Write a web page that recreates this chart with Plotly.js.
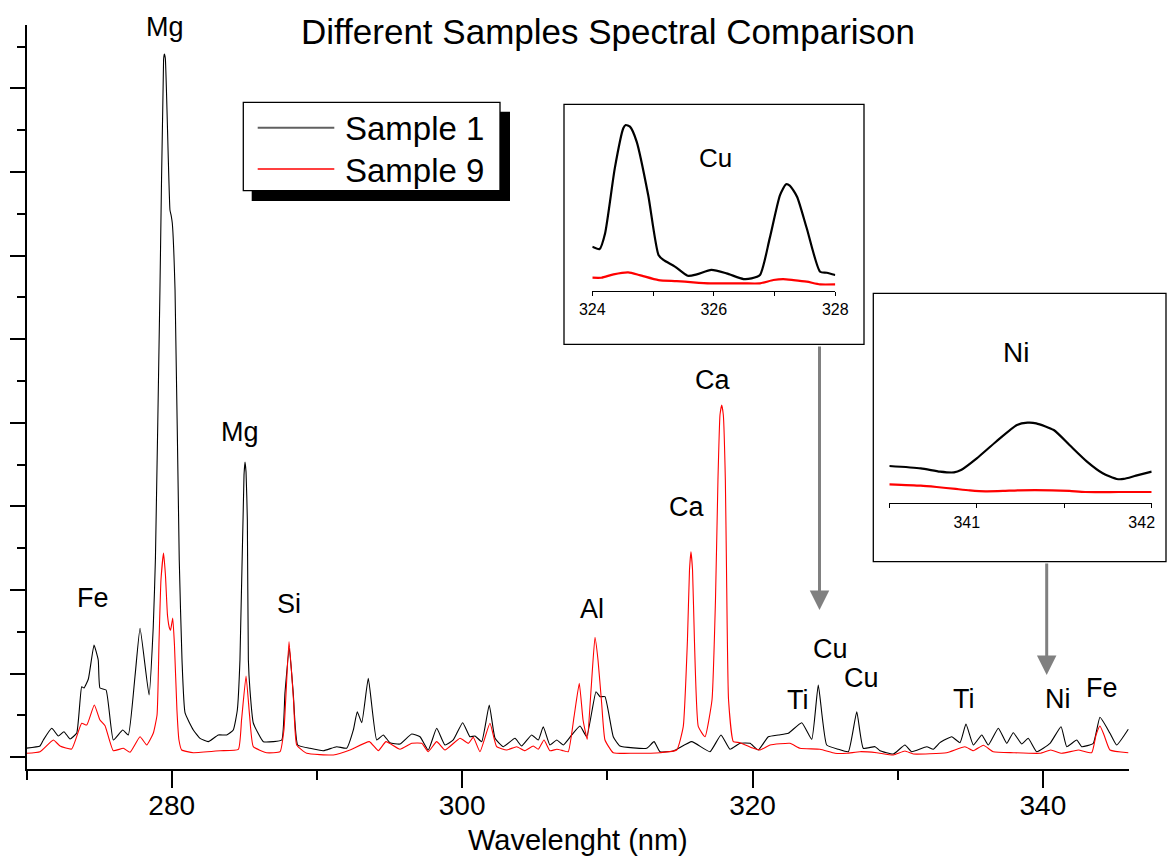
<!DOCTYPE html>
<html>
<head>
<meta charset="utf-8">
<script src="https://cdn.plot.ly/plotly-3.0.1.min.js"></script>
<style>html,body{margin:0;padding:0;background:#fff;}#chart{width:1168px;height:858px;}</style>
</head>
<body>
<div id="chart"></div>
<script>
// ---- Sample 1 (black) full spectrum ----
const wl1 = [270.01,270.93,271.16,271.74,272.19,272.58,273.00,273.46,273.80,273.96,274.26,274.65,274.94,275.06,275.48,275.98,276.63,277.01,277.47,277.82,278.44,278.73,278.88,279.19,279.44,279.49,279.56,279.88,279.97,280.04,280.23,280.52,280.71,280.92,281.49,281.95,282.52,283.21,283.79,284.24,284.52,284.70,284.98,285.05,285.12,285.21,285.28,285.39,285.62,286.31,287.00,287.58,287.80,288.10,288.37,288.68,289.52,290.44,291.36,292.05,292.51,292.78,293.09,293.54,294.12,294.57,295.03,295.72,296.53,297.10,297.67,298.25,298.82,299.39,300.04,300.54,300.89,301.35,301.87,302.27,302.84,303.64,304.10,304.79,305.25,305.59,306.05,306.52,306.97,307.55,308.12,308.58,309.22,309.50,309.84,310.41,310.87,312.71,313.22,313.63,314.55,315.81,317.07,317.83,318.45,319.14,319.83,320.40,321.09,321.78,322.47,323.39,324.08,324.53,325.11,325.91,326.60,327.18,327.63,328.44,328.78,329.70,330.50,330.96,332.00,332.45,332.91,333.72,334.29,334.70,335.21,335.79,336.24,336.93,337.51,337.96,338.54,338.99,339.57,340.49,341.25,341.64,342.33,342.67,343.47,343.93,344.62,345.08,345.88];
const sample1 = [110,135,207,347,255,306,219,291,844,829,936,1343,1164,829,805,207,327,267,964,1543,745,1562,2384,5589,8340,8411,8364,6546,6474,6390,5589,2360,1164,530,327,227,187,267,267,327,566,1164,3376,3532,3412,2838,1164,805,410,187,187,207,769,1304,769,147,108,79,127,108,327,545,414,945,207,267,175,159,279,246,87,347,147,207,414,246,255,187,625,227,127,227,135,267,207,366,147,207,147,267,374,246,785,725,725,246,135,108,187,67,75,187,67,267,96,167,167,87,246,267,287,414,215,865,147,96,67,545,108,127,79,39,147,67,127,96,175,246,175,398,147,267,147,347,167,294,159,227,67,167,366,127,207,127,167,478,287,147,335];

// ---- Sample 9 (red) full spectrum ----
const wl9 = [270.01,270.93,271.85,272.31,273.11,273.80,274.15,274.67,275.06,275.41,275.98,276.67,277.13,277.82,278.28,278.73,278.99,279.13,279.26,279.44,279.57,279.71,279.85,279.92,280.07,280.19,280.36,280.50,280.69,281.49,283.33,284.59,284.81,285.12,285.36,285.62,286.54,287.46,287.73,288.08,288.39,288.61,289.30,291.13,292.28,293.61,294.23,294.76,295.72,296.53,297.22,297.67,298.25,298.82,299.86,300.43,300.77,301.23,301.92,302.38,303.07,303.76,304.33,304.90,305.25,305.64,306.05,306.52,306.97,307.31,307.71,308.07,308.33,308.62,308.88,309.15,309.36,309.61,309.84,310.41,311.79,313.63,314.78,315.23,315.52,315.66,315.76,315.87,316.00,316.27,316.73,317.21,317.45,317.62,317.76,317.88,317.99,318.13,318.21,318.35,318.68,319.14,320.06,320.52,321.21,322.58,323.27,324.65,325.68,326.49,327.40,328.55,329.70,330.50,331.08,333.37,334.63,335.21,335.90,336.58,337.96,339.80,340.54,341.30,342.44,343.36,343.66,343.93,344.21,344.62,345.88];
const sample9 = [48,67,207,135,99,407,386,625,446,378,79,108,60,246,147,287,506,1403,2121,2443,2176,1698,1543,1519,1666,1343,566,207,87,55,79,96,446,972,506,127,55,67,327,1383,685,147,48,28,87,187,79,187,96,167,167,67,187,87,227,167,239,67,407,127,87,127,79,135,96,207,79,96,79,67,486,885,446,215,805,1435,1164,646,207,55,48,55,87,366,1403,2240,2459,2240,1403,366,246,685,1881,3317,4094,4214,4094,3317,2240,685,187,175,108,87,147,167,108,96,48,48,67,55,28,75,39,55,127,79,144,67,55,48,87,48,87,55,267,374,267,87,55];

// ---- Cu inset (324-328 nm), relative intensity ----
const cuWl1 = [324.00,324.12,324.21,324.37,324.51,324.55,324.62,324.73,324.92,325.09,325.17,325.36,325.57,325.72,325.96,326.21,326.49,326.62,326.76,326.92,327.09,327.19,327.25,327.37,327.53,327.75,327.86,328.00];
const cuS1 = [26.7,25.3,34.7,73.9,98,100,99,90,57.8,21.7,18.7,14.7,9.2,10,12.7,10.6,7.2,7.6,9.6,31.7,57.8,64.3,63.5,56.8,37.8,11.6,11,9.6];
const cuWl9 = [324.00,324.15,324.35,324.59,324.78,325.09,325.39,325.66,325.94,326.21,326.49,326.76,326.98,327.14,327.31,327.53,327.75,328.00];
const cuS9 = [8,8,10,11.2,9.6,6.6,6,5.2,4.6,4.6,4.6,4.6,6.6,7.2,6.6,5.6,4,4];

// ---- Ni inset (340.5-342 nm), relative intensity ----
const niWl1 = [340.50,340.68,340.79,340.87,340.91,341.00,341.11,341.23,341.29,341.34,341.44,341.53,341.63,341.72,341.80,341.84,341.91,342.00];
const niS1 = [46.3,43.4,39.3,38.4,41.3,55.8,76.4,97.1,100,99.2,90.9,72.3,51.7,37.2,30.2,30.2,34.3,39.3];
const niWl9 = [340.50,340.68,340.77,340.88,340.96,341.05,341.15,341.24,341.43,341.53,341.62,341.81,342.00];
const niS9 = [23.6,21.9,20.2,17.8,16.1,14.9,15.3,16.1,16.1,15.3,14,14,14];

// ---- peak labels ----
const peakNames = ["Mg","Mg","Fe","Si","Al","Ca","Ca","Ti","Cu","Cu","Ti","Ni","Fe"];
const peakWl = [279.54,284.70,274.58,288.08,308.95,315.47,317.26,323.15,325.35,327.52,334.59,341.02,344.09];
const peakLabelY = [8740,3891,1905,1834,1774,2997,4513,686,1295,945,697,697,829];

const seriesNames = ["Sample 1","Sample 9"];

const FONT = "Liberation Sans, Arial, Helvetica, sans-serif";

const traces = [
  {x: wl1, y: sample1, name: seriesNames[0], type: "scatter", mode: "lines", line: {color: "#000", width: 1.1, shape: "spline", smoothing: 0.4}, xaxis: "x", yaxis: "y", showlegend: false},
  {x: wl9, y: sample9, name: seriesNames[1], type: "scatter", mode: "lines", line: {color: "#ff0000", width: 1.1, shape: "spline", smoothing: 0.4}, xaxis: "x", yaxis: "y", showlegend: false},
  {x: cuWl1, y: cuS1, name: seriesNames[0] + " Cu", type: "scatter", mode: "lines", line: {color: "#000", width: 2.2, shape: "spline", smoothing: 0.6}, xaxis: "x2", yaxis: "y2", showlegend: false},
  {x: cuWl9, y: cuS9, name: seriesNames[1] + " Cu", type: "scatter", mode: "lines", line: {color: "#ff0000", width: 2.2, shape: "spline", smoothing: 0.6}, xaxis: "x2", yaxis: "y2", showlegend: false},
  {x: niWl1, y: niS1, name: seriesNames[0] + " Ni", type: "scatter", mode: "lines", line: {color: "#000", width: 2.2, shape: "spline", smoothing: 0.6}, xaxis: "x3", yaxis: "y3", showlegend: false},
  {x: niWl9, y: niS9, name: seriesNames[1] + " Ni", type: "scatter", mode: "lines", line: {color: "#ff0000", width: 2.2, shape: "spline", smoothing: 0.6}, xaxis: "x3", yaxis: "y3", showlegend: false}
];

const W = 1168, H = 858;
const px = v => v / W;
const py = v => 1 - v / H;

const annotations = peakNames.map((t, i) => ({
  text: t, x: peakWl[i], y: peakLabelY[i], xref: "x", yref: "y",
  showarrow: false, xanchor: "center", yanchor: "middle",
  font: {family: FONT, size: 27, color: "#000"}
}));

// inset labels
annotations.push({text: "Cu", x: px(715), y: py(158), xref: "paper", yref: "paper", showarrow: false, xanchor: "center", yanchor: "middle", font: {family: FONT, size: 26, color: "#000"}});
annotations.push({text: "Ni", x: px(1016), y: py(352), xref: "paper", yref: "paper", showarrow: false, xanchor: "center", yanchor: "middle", font: {family: FONT, size: 28, color: "#000"}});

// arrows
annotations.push({text: "", x: px(819.5), y: py(610), xref: "paper", yref: "paper", ax: px(819.5), ay: py(345), axref: "paper", ayref: "paper", showarrow: true, arrowhead: 2, arrowsize: 1.3, arrowwidth: 3, arrowcolor: "#808080", standoff: 0});
annotations.push({text: "", x: px(1046.7), y: py(675), xref: "paper", yref: "paper", ax: px(1046.7), ay: py(562), axref: "paper", ayref: "paper", showarrow: true, arrowhead: 2, arrowsize: 1.3, arrowwidth: 3, arrowcolor: "#808080", standoff: 0});

// legend text
annotations.push({text: seriesNames[0], x: px(343), y: py(128), xref: "paper", yref: "paper", showarrow: false, xanchor: "left", yanchor: "middle", font: {family: FONT, size: 33, color: "#000"}});
annotations.push({text: seriesNames[1], x: px(343), y: py(170), xref: "paper", yref: "paper", showarrow: false, xanchor: "left", yanchor: "middle", font: {family: FONT, size: 33, color: "#000"}});

const shapes = [
  // inset boxes
  {type: "rect", xref: "paper", yref: "paper", x0: px(564), x1: px(864), y0: py(344.3), y1: py(104.3), line: {color: "#000", width: 1.3}, fillcolor: "#fff", layer: "below"},
  {type: "rect", xref: "paper", yref: "paper", x0: px(873.3), x1: px(1166), y0: py(561.7), y1: py(293.3), line: {color: "#000", width: 1.3}, fillcolor: "#fff", layer: "below"},
  // legend shadow and box
  {type: "rect", xref: "paper", yref: "paper", x0: px(251.7), x1: px(510), y0: py(201), y1: py(111.7), line: {width: 0}, fillcolor: "#000", layer: "above"},
  {type: "rect", xref: "paper", yref: "paper", x0: px(243.3), x1: px(500), y0: py(190.7), y1: py(102.3), line: {color: "#000", width: 1.3}, fillcolor: "#fff", layer: "above"},
  {type: "line", xref: "paper", yref: "paper", x0: px(257.7), x1: px(334.3), y0: py(127.7), y1: py(127.7), line: {color: "#606060", width: 2}, layer: "above"},
  {type: "line", xref: "paper", yref: "paper", x0: px(257.7), x1: px(334.3), y0: py(169), y1: py(169), line: {color: "#ff0000", width: 1.5}, layer: "above"}
];

const insetX = {
  showline: true, linecolor: "#000", linewidth: 1, ticks: "outside", ticklen: 4, tickwidth: 1, tickcolor: "#000",
  showgrid: false, zeroline: false, tickfont: {family: FONT, size: 16, color: "#000"}, fixedrange: true
};
const insetY = {visible: false, fixedrange: true};

const layout = {
  width: W, height: H,
  margin: {l: 0, r: 0, t: 0, b: 0, pad: 0},
  paper_bgcolor: "#fff", plot_bgcolor: "rgba(0,0,0,0)",
  showlegend: false,
  title: {text: "Different Samples Spectral Comparison", x: px(608), xanchor: "center", y: py(32), yanchor: "middle", xref: "container", yref: "container", font: {family: FONT, size: 35, color: "#000"}},
  xaxis: {
    domain: [px(26.5), px(1129.3)], range: [270, 345.95], anchor: "y",
    showline: true, linecolor: "#000", linewidth: 2, mirror: false,
    ticks: "outside", tick0: 280, dtick: 20, ticklen: 17, tickwidth: 2, tickcolor: "#000",
    ticklabelstandoff: -7,
    minor: {tick0: 270, dtick: 10, ticks: "outside", ticklen: 9, tickwidth: 2, tickcolor: "#000", showgrid: false},
    showgrid: false, zeroline: false, automargin: false,
    tickfont: {family: FONT, size: 28, color: "#000"},
    title: {text: "Wavelenght (nm)", font: {family: FONT, size: 29, color: "#000"}, standoff: 10}
  },
  yaxis: {
    domain: [py(769), py(25)], range: [-140, 8759], anchor: "x",
    showline: true, linecolor: "#000", linewidth: 2,
    ticks: "outside", tick0: 0, dtick: 1000, ticklen: 15, tickwidth: 2, tickcolor: "#000",
    minor: {tick0: 0, dtick: 500, ticks: "outside", ticklen: 8, tickwidth: 2, tickcolor: "#000", showgrid: false},
    showticklabels: false, showgrid: false, zeroline: false, automargin: false
  },
  xaxis2: Object.assign({}, insetX, {domain: [px(592.3), px(835.3)], range: [324, 328], anchor: "y2", tick0: 324, dtick: 2, minor: {dtick: 1, ticks: "outside", ticklen: 4, tickwidth: 1, tickcolor: "#000"}}),
  yaxis2: Object.assign({}, insetY, {domain: [py(291), py(116.7)], range: [0, 105], anchor: "x2"}),
  xaxis3: Object.assign({}, insetX, {domain: [px(889.3), px(1151.7)], range: [340.5, 342], anchor: "y3", tick0: 341, dtick: 1, ticklabelshift: -10, minor: {dtick: 0.5, ticks: "outside", ticklen: 4, tickwidth: 1, tickcolor: "#000"}}),
  yaxis3: Object.assign({}, insetY, {domain: [py(503.3), py(406.6)], range: [0, 120], anchor: "x3"}),
  annotations: annotations,
  shapes: shapes
};

Plotly.newPlot("chart", traces, layout, {displayModeBar: false, staticPlot: true});
</script>
</body>
</html>
